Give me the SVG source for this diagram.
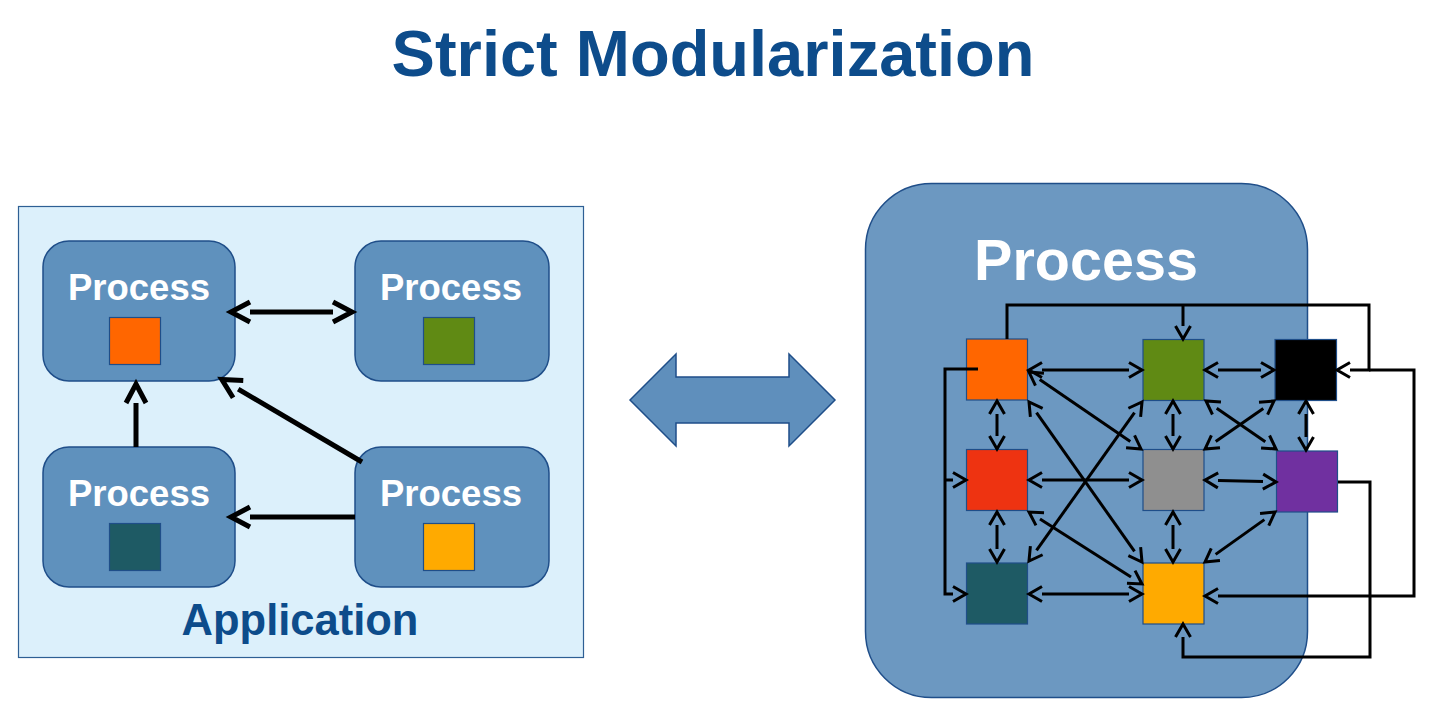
<svg xmlns="http://www.w3.org/2000/svg" width="1432" height="714" viewBox="0 0 1432 714">
<style>
text{font-family:"Liberation Sans",Arial,sans-serif;font-weight:bold;text-anchor:middle}
.title{font-size:65px;fill:#0d4c8b}
.app{font-size:43.5px;fill:#0d4c8b}
.pl{font-size:36.5px;fill:#ffffff}
.pb{font-size:57.5px;fill:#ffffff}
.box{fill:#5f91bd;stroke:#1f4e89;stroke-width:1.5}
.sq{stroke:#1f4e89;stroke-width:1.2}
.cl{fill:none;stroke:#000;stroke-width:5}
.cr{fill:none;stroke:#000;stroke-width:3}
.d2{marker-start:url(#ah);marker-end:url(#ah)}
.d1{marker-end:url(#ah)}
.l1{marker-end:url(#ahL)}
.l2{marker-start:url(#ahL);marker-end:url(#ahL)}
</style>
<defs>
<marker id="ah" markerUnits="userSpaceOnUse" markerWidth="30" markerHeight="30" refX="0" refY="0" orient="auto-start-reverse" overflow="visible">
<path d="M0,-7.5 L13,0 L0,7.5" fill="none" stroke="#000" stroke-width="3"/>
</marker>
<marker id="ahL" markerUnits="userSpaceOnUse" markerWidth="40" markerHeight="40" refX="0" refY="0" orient="auto-start-reverse" overflow="visible">
<path d="M0,-10 L19,0 L0,10" fill="none" stroke="#000" stroke-width="5"/>
</marker>
</defs>
<rect width="1432" height="714" fill="#ffffff"/>
<text class="title" x="713" y="76">Strict Modularization</text>

<g id="application">
<rect x="18.5" y="206.5" width="565" height="451" fill="#dcf0fb" stroke="#2e5f94" stroke-width="1.2"/>
<text class="app" x="300" y="635">Application</text>
</g>
<g id="proc-tl">
<rect class="box" x="43" y="241" width="192" height="140" rx="26"/>
<text class="pl" x="139" y="300">Process</text>
<rect class="sq" x="109.5" y="317.5" width="51" height="47" fill="#ff6600"/>
</g>
<g id="proc-tr">
<rect class="box" x="355" y="241" width="194" height="140" rx="26"/>
<text class="pl" x="451" y="300">Process</text>
<rect class="sq" x="423.5" y="317.5" width="51" height="47" fill="#608a14"/>
</g>
<g id="proc-bl">
<rect class="box" x="43" y="447" width="192" height="140" rx="26"/>
<text class="pl" x="139" y="506">Process</text>
<rect class="sq" x="109.5" y="523.5" width="51" height="47" fill="#1e5a64"/>
</g>
<g id="proc-br">
<rect class="box" x="355" y="447" width="194" height="140" rx="26"/>
<text class="pl" x="451" y="506">Process</text>
<rect class="sq" x="423.5" y="523.5" width="51" height="47" fill="#ffaa00"/>
</g>

<g id="big-arrow">
<polygon points="630,400 676,354 676,377 789,377 789,354 835,400 789,446 789,423 676,423 676,446" fill="#5f8fbc" stroke="#1f4e89" stroke-width="1.5" stroke-linejoin="miter"/>
</g>

<g id="process-big">
<rect x="865.5" y="183.5" width="442" height="514" rx="66" fill="#6c98c1" stroke="#1f4e89" stroke-width="1.5"/>
<text class="pb" x="1086" y="280">Process</text>
</g>
<g id="m-orange"><rect class="sq" x="966.5" y="339" width="61" height="61" fill="#ff6600"/></g>
<g id="m-green"><rect class="sq" x="1143" y="339.5" width="61" height="61" fill="#608a14"/></g>
<g id="m-black"><rect class="sq" x="1275" y="339.5" width="61.5" height="61" fill="#000000"/></g>
<g id="m-red"><rect class="sq" x="966.5" y="449.5" width="61" height="61" fill="#ee3311"/></g>
<g id="m-gray"><rect class="sq" x="1143" y="449.5" width="61" height="61" fill="#8f8f8f"/></g>
<g id="m-purple"><rect class="sq" x="1276.5" y="451" width="61" height="61" fill="#7030a0"/></g>
<g id="m-teal"><rect class="sq" x="966.5" y="563" width="61" height="61" fill="#1e5a64"/></g>
<g id="m-yellow"><rect class="sq" x="1143" y="563" width="61" height="61" fill="#ffaa00"/></g>

<g id="connectors">
<path class="cl l2" d="M250,312 H333"/>
<path class="cl l1" d="M136,447 V403"/>
<path class="cl l1" d="M362,462 L238.2,389.1"/>
<path class="cl l1" d="M355,517 H250"/>

<path class="cr d2" d="M1042,370 H1129"/>
<path class="cr d2" d="M1218,370 H1261"/>
<path class="cr d2" d="M1042,480 H1129"/>
<path class="cr d2" d="M1218,480.4 L1263,481.6"/>
<path class="cr d2" d="M1042,594 H1129"/>
<path class="cr d2" d="M997,414 V436"/>
<path class="cr d2" d="M1173,414 V436"/>
<path class="cr d2" d="M1306,414 V437"/>
<path class="cr d2" d="M997,525 V549"/>
<path class="cr d2" d="M1173,525 V549"/>
<path class="cr d2" d="M1039.7,379.4 L1130.3,441.6"/>
<path class="cr d2" d="M1036.5,412.6 L1134.5,551.4"/>
<path class="cr d2" d="M1036.5,550.4 L1134.5,412.6"/>
<path class="cr d2" d="M1040,519 L1131,577"/>
<path class="cr d2" d="M1216.7,408.3 L1265.3,441.7"/>
<path class="cr d2" d="M1263.3,408.4 L1215.7,441.6"/>
<path class="cr d2" d="M1264.4,519.6 L1215.6,554.4"/>

<path class="cr d1" d="M1007,339 V305 H1369 V370 H1350"/>
<path class="cr d1" d="M1183,305 V326"/>
<path class="cr d1" d="M1369,370 H1414 V596 H1218"/>
<path class="cr d1" d="M1338,482 H1370 V657 H1183 V637"/>
<path class="cr d1" d="M978,369 H945 V594 H953"/>
<path class="cr d1" d="M945,480 H953"/>
</g>
</svg>
